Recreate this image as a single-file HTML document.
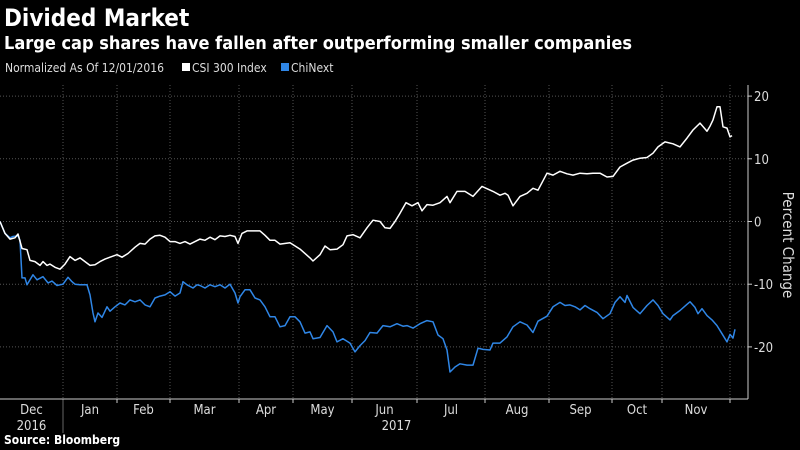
<!DOCTYPE html>
<html><head><meta charset="utf-8"><style>
html,body{margin:0;padding:0;background:#000;width:800px;height:450px;overflow:hidden}
svg{display:block;font-family:"DejaVu Sans Condensed","Liberation Sans",sans-serif}
</style></head><body>
<svg id="chart" width="800" height="450" viewBox="0 0 800 450">
<text x="4" y="26" fill="#fff" font-size="24" font-weight="bold">Divided Market</text>
<text x="4" y="49" fill="#fff" font-size="18" font-weight="bold">Large cap shares have fallen after outperforming smaller companies</text>
<text x="5" y="72" fill="#ddd" font-size="12">Normalized As Of 12/01/2016</text>
<g><rect x="182" y="63" width="8" height="8" fill="#fff"/><text x="192" y="72" fill="#ddd" font-size="12">CSI 300 Index</text></g>
<g><rect x="281" y="63" width="8" height="8" fill="#2f86e6"/><text x="291" y="72" fill="#ddd" font-size="12">ChiNext</text></g>
<g id="grid"></g><g id="axes"></g><g id="series"></g>
<text transform="translate(783,245) rotate(90)" text-anchor="middle" fill="#ddd" font-size="15">Percent Change</text>
<text x="4" y="444" fill="#fff" font-size="12" font-weight="bold">Source: Bloomberg</text>
</svg>
<script>
// days since 12/01/2016 (approx. half-pixel scale)
const csiDays=[0,2.5,5,7.5,9,11,13.5,15,17.5,20,21.5,23.5,25,27.5,30,32.5,35,37.5,40,42.5,45,47.5,50,52.5,55,58.5,61,64,67.5,70,72.5,75,77.5,80,82.5,85,87.5,90,92.5,95,97.5,100,102.5,105,107.5,110,112.5,115,117.5,119,121,123.5,125,130,132.5,135,137.5,140,145,150,155,156.5,160,162.5,165,168.5,171.5,173.5,176.5,180,183.5,186.5,190,192.5,195,197.5,200,203,206,209,211,213.5,216.5,220,223.5,225,228.5,232.5,236.5,241,246.5,250,252.5,254,256.5,260,263.5,266.5,269,273.5,276.5,280,283.5,286.5,290,293.5,296.5,300,303.5,306.5,310,313.5,316.5,320,323.5,326.5,329,332.5,336.5,340,343.5,346.5,350,353.5,355,356.5,358.5,360,361.5,363.5,365,366];
const csiValues=[0,-1.9,-2.8,-2.6,-2,-4.3,-4.5,-6.2,-6.4,-7,-6.4,-7,-6.8,-7.3,-7.6,-6.8,-5.6,-6.2,-5.8,-6.4,-7,-6.9,-6.4,-6,-5.7,-5.3,-5.7,-5.1,-4.1,-3.5,-3.6,-2.8,-2.3,-2.2,-2.5,-3.2,-3.2,-3.5,-3.2,-3.6,-3.2,-2.8,-3,-2.5,-2.9,-2.3,-2.4,-2.2,-2.4,-3.5,-1.9,-1.5,-1.5,-1.5,-2.2,-3,-3,-3.6,-3.4,-4.4,-5.8,-6.3,-5.3,-3.9,-4.5,-4.4,-3.7,-2.3,-2.1,-2.6,-1,0.2,0,-1,-1.1,0,1.3,3,2.5,3,1.7,2.7,2.6,3,4,3,4.8,4.8,4,5.6,4.8,4.2,4.5,4.2,2.5,4,4.5,5.3,5,7.7,7.4,8,7.6,7.4,7.7,7.6,7.7,7.7,7.1,7.2,8.7,9.3,9.8,10.1,10.2,10.9,11.9,12.7,12.4,11.9,13.3,14.6,15.7,14.4,15.2,16.2,18.3,18.3,15.1,14.9,13.5,13.7,12.5,12.9];
const chiDays=[0,2.5,5,6.5,9,10,11,12.5,13.5,16.5,18.5,21.5,24,26,28.5,30,31.5,34,36,37.5,40,43.5,45,46.5,47.5,49,51,53.5,55,57.5,60,62.5,65,67.5,70,72.5,75,77.5,80,82.5,85,87.5,90,91.5,93.5,96.5,98.5,100,102.5,105,107.5,110,112.5,115,117.5,119,120,122.5,125,127.5,130,132.5,135,137.5,140,142.5,145,147.5,150,152.5,155,156.5,160,163.5,166.5,168.5,171.5,175,177.5,180,182.5,185,188.5,191.5,195,198.5,201.5,203.5,206.5,210,213.5,216.5,219,221.5,223.5,225,227.5,230,233.5,236.5,239,241.5,245,246.5,250,253.5,256.5,260,263.5,266.5,269,273.5,276.5,280,282.5,285,287.5,290,292.5,295,298.5,301.5,305,307.5,310,312.5,313.5,316.5,320,323.5,326.5,329,331.5,335,336.5,340,343.5,345,347.5,349,351,353.5,356,358.5,361,363.5,365,366.5,367.5];
const chiValues=[0,-1.9,-2.6,-2.4,-2.3,-3,-9,-9,-10.1,-8.5,-9.3,-8.8,-9.8,-9.5,-10.2,-10.1,-10,-8.9,-9.6,-10,-10.1,-10.1,-11.7,-14.6,-16,-14.6,-15.3,-13.6,-14.3,-13.6,-13,-13.3,-12.5,-12.8,-12.5,-13.3,-13.6,-12.2,-11.9,-11.7,-11.2,-11.9,-11.4,-9.6,-10.1,-10.6,-10.1,-10.2,-10.6,-10.1,-10.4,-10.1,-10.6,-10,-11.4,-13,-12,-10.9,-10.9,-12.2,-12.5,-13.6,-15.2,-15.2,-16.8,-16.6,-15.2,-15.2,-16,-17.8,-17.6,-18.7,-18.5,-16.6,-17.6,-19.2,-18.7,-19.4,-20.8,-19.8,-19,-17.7,-17.8,-16.6,-16.8,-16.3,-16.7,-16.6,-17,-16.3,-15.8,-16,-18.1,-18.7,-20.5,-24,-23.2,-22.7,-22.9,-22.9,-20.2,-20.4,-20.5,-19.4,-19.4,-18.4,-16.8,-16,-16.5,-17.7,-15.9,-15.1,-13.6,-12.9,-13.4,-13.3,-13.6,-14.1,-13.4,-13.9,-14.5,-15.5,-14.7,-12.9,-12,-12.9,-11.8,-13.7,-14.7,-13.4,-12.5,-13.4,-14.7,-15.7,-15,-14.2,-13.2,-12.8,-13.7,-14.7,-13.9,-15,-15.7,-16.6,-17.9,-19.2,-18,-18.6,-17.2];
const yTicks=[20,10,0,-10,-20];
const monthBounds=[31.5,58.5,85,119.5,146.5,176,208.5,242.5,274.5,306,331,365];
const monthLabels=["Dec","Jan","Feb","Mar","Apr","May","Jun","Jul","Aug","Sep","Oct","Nov"];

const NS="http://www.w3.org/2000/svg";
const X0=0,PX_PER_DAY=2.0,Y0=221.5,PX_PER_UNIT=6.27,RIGHT=748,TOP=85,BOTTOM=399;
const xs=d=>X0+d*PX_PER_DAY;
const ys=v=>Y0-v*PX_PER_UNIT;
function mk(tag,attrs,parent){const e=document.createElementNS(NS,tag);for(const k in attrs)e.setAttribute(k,attrs[k]);parent.appendChild(e);return e;}
const grid=document.getElementById('grid'),axes=document.getElementById('axes'),series=document.getElementById('series');

yTicks.forEach(t=>{
  const l=mk('line',{x1:0,x2:RIGHT,y1:ys(t),y2:ys(t),stroke:'#555','stroke-dasharray':'1,2','stroke-width':1},grid);
  
  
  const tk=mk('line',{x1:RIGHT,x2:RIGHT+4,y1:ys(t),y2:ys(t),stroke:'#ccc'},axes);
  
  
  const tx=mk('text',{x:RIGHT+6,y:ys(t)+5,fill:'#ddd','font-size':13},axes);
  tx.textContent=t<0?'-'+Math.abs(t):String(t);
  
  
});
monthBounds.forEach(d=>{
  const l=mk('line',{x1:xs(d),x2:xs(d),y1:TOP,y2:BOTTOM,stroke:'#555','stroke-dasharray':'1,2'},grid);
  
  
  const tk=mk('line',{x1:xs(d),x2:xs(d),y1:BOTTOM,y2:BOTTOM+4,stroke:'#ccc'},axes);
  
  
});
monthLabels.forEach((m,i)=>{
  const a=i===0?0:monthBounds[i-1],b=monthBounds[i];
  const tx=mk('text',{x:(xs(a)+xs(b))/2,y:414,fill:'#ddd','font-size':13,'text-anchor':'middle'},axes);
  tx.textContent=m;
  
  
});
const y16=mk('text',{x:(xs(0)+xs(monthBounds[0]))/2,y:430,fill:'#ddd','font-size':13,'text-anchor':'middle'},axes);
y16.textContent='2016';


const y17=mk('text',{x:(xs(monthBounds[0])+xs(monthBounds[11]))/2,y:430,fill:'#ddd','font-size':13,'text-anchor':'middle'},axes);
y17.textContent='2017';


const sep=mk('line',{x1:xs(monthBounds[0]),x2:xs(monthBounds[0]),y1:BOTTOM,y2:433,stroke:'#666'},axes);


const xa=mk('line',{x1:0,x2:RIGHT,y1:BOTTOM,y2:BOTTOM,stroke:'#ccc'},axes);


const ya=mk('line',{x1:RIGHT,x2:RIGHT,y1:TOP,y2:BOTTOM,stroke:'#ccc'},axes);



function pathFor(days,vals){return days.map((d,i)=>(i?'L':'M')+xs(d).toFixed(1)+','+ys(vals[i]).toFixed(1)).join('');}
const chi=mk('path',{d:pathFor(chiDays,chiValues),fill:'none',stroke:'#2f86e6','stroke-width':1.5,'stroke-linejoin':'round'},series);


const csi=mk('path',{d:pathFor(csiDays,csiValues),fill:'none',stroke:'#fff','stroke-width':1.5,'stroke-linejoin':'round'},series);


</script>
</body></html>
